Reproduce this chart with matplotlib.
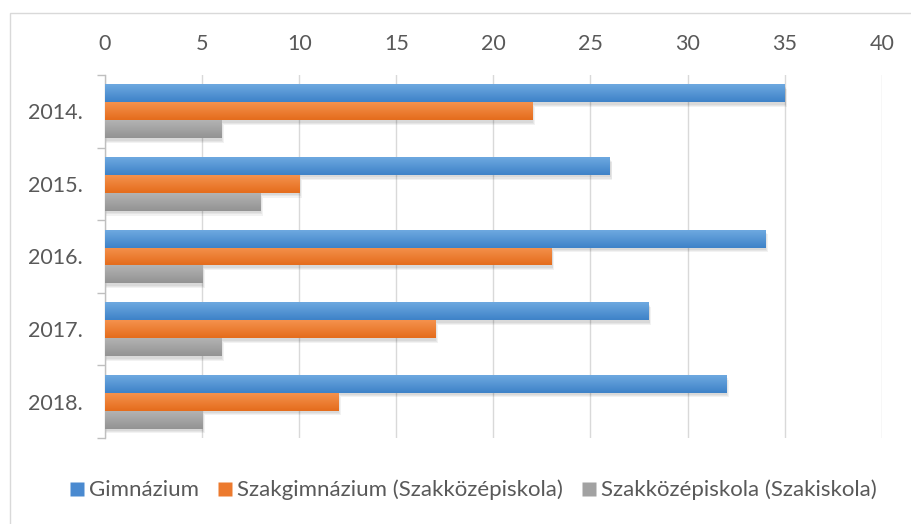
import numpy as np
import matplotlib
matplotlib.use("Agg")
import matplotlib.pyplot as plt
from matplotlib.patches import Rectangle
from matplotlib.colors import LinearSegmentedColormap
from matplotlib.lines import Line2D

categories = ["2014.", "2015.", "2016.", "2017.", "2018."]
series_names = ["Gimnázium", "Szakgimnázium (Szakközépiskola)", "Szakközépiskola (Szakiskola)"]
gimnazium = [35, 26, 34, 28, 32]
szakgimnazium = [22, 10, 23, 17, 12]
szakkozep = [6, 8, 5, 6, 5]
x_ticks = [0, 5, 10, 15, 20, 25, 30, 35, 40]

series = [gimnazium, szakgimnazium, szakkozep]
colors_top = ["#6EA9E0", "#F5924D", "#B3B3B3"]
colors_bot = ["#3E82C8", "#E46C1C", "#939393"]
legend_cols = ["#4A8AD0", "#EC7A2E", "#A2A2A2"]

plt.rcParams['font.family'] = ['Lato', 'DejaVu Sans']

fig = plt.figure(figsize=(9.11, 5.24), dpi=100)
fig.patch.set_facecolor("white")
fig.patches.append(Rectangle((10/911, -0.05), 1.2, 1 - 13/524 + 0.05,
                             transform=fig.transFigure, fill=False,
                             edgecolor="#D9D9D9", linewidth=1.0))

ax = fig.add_axes([105/911, 1 - 438/524, (881.7 - 105)/911, (438 - 75)/524])
ax.set_xlim(0, 40)
ax.set_ylim(4.5, -0.5)

bar_h = 0.247
y = np.arange(len(categories))
for i, vals in enumerate(series):
    offs = (i - 1) * bar_h
    for yc, v in zip(y + offs, vals):
        # soft shadow
        for k, a in enumerate([0.05, 0.05, 0.05]):
            d = 0.015 * (k + 1)
            sh = Rectangle((0, yc - bar_h/2 + d + 0.02), v + 0.05 + 0.04 * k, bar_h,
                           facecolor="#000000", alpha=a, edgecolor="none", zorder=2)
            ax.add_patch(sh)
    bars = ax.barh(y + offs, vals, height=bar_h, color=colors_bot[i], zorder=3,
                   edgecolor="none")
    cmap = LinearSegmentedColormap.from_list("g%d" % i, [colors_top[i], colors_bot[i]])
    grad = np.linspace(0, 1, 64).reshape(-1, 1)
    for b in bars:
        x0, y0 = b.get_x(), b.get_y()
        w, h = b.get_width(), b.get_height()
        im = ax.imshow(grad, cmap=cmap, aspect="auto",
                       extent=(x0, x0 + w, y0 + h, y0), zorder=4,
                       interpolation="bicubic")
        im.set_clip_path(b)

ax.set_xlim(0, 40)
ax.set_ylim(4.5, -0.5)

ax.xaxis.tick_top()
ax.set_xticks(x_ticks)
ax.set_xticklabels([str(t) for t in x_ticks])
ax.tick_params(axis="x", length=0, pad=15, labelsize=15.5, labelcolor="#595959")
ax.grid(axis="x", color="#D9D9D9", linewidth=1.0, zorder=0)
ax.set_axisbelow(True)

ax.set_yticks(y)
ax.set_yticklabels(categories)
ax.tick_params(axis="y", length=0, pad=16, labelsize=15.5, labelcolor="#595959")
ax.set_yticks(np.arange(-0.5, len(categories)), minor=True)
ax.tick_params(axis="y", which="minor", length=6, color="#BFBFBF", width=1.0)

for s in ["top", "right", "bottom"]:
    ax.spines[s].set_visible(False)
ax.spines["left"].set_color("#BFBFBF")
ax.spines["left"].set_linewidth(1.0)

handles = [Line2D([], [], marker="s", linestyle="none", markersize=10.5,
                  markerfacecolor=c, markeredgecolor="none") for c in legend_cols]
fig.legend(handles, series_names, loc="center", bbox_to_anchor=(473/911, 1 - 490/524),
           ncol=3, frameon=False, fontsize=16, labelcolor="#595959",
           handletextpad=0.2, columnspacing=0.8, handlelength=0.7)

fig.savefig("out.png", dpi=100, facecolor="white")
